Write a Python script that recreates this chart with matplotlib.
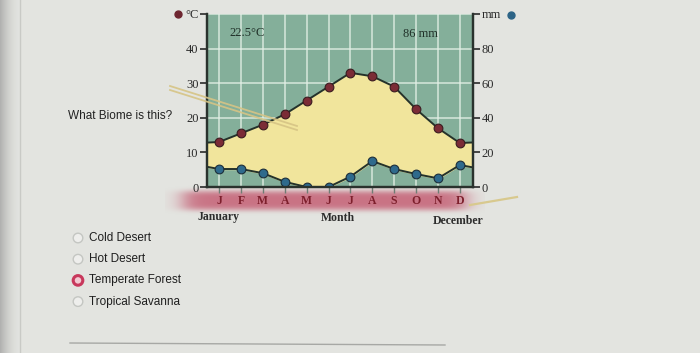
import numpy as np
import matplotlib.pyplot as plt
from matplotlib.patches import Circle

# climate values
months = ['J', 'F', 'M', 'A', 'M', 'J', 'J', 'A', 'S', 'O', 'N', 'D']
temp_c = [13, 15.5, 18, 21, 25, 29, 33, 32, 29, 22.5, 17, 12.7]
precip_mm = [10.4, 10.4, 8, 3, 0, 0, 6, 15, 10.4, 7.5, 5, 12.7]
temp_ticks = [0, 10, 20, 30, 40]
precip_ticks = [0, 20, 40, 60, 80]
annual_temp = '22.5°C'
annual_precip = '86 mm'
question = 'What Biome is this?'
choices = ['Cold Desert', 'Hot Desert', 'Temperate Forest', 'Tropical Savanna']
selected = 'Temperate Forest'

serif = 'Liberation Serif'
sans = 'Liberation Sans'

fig = plt.figure(figsize=(7, 3.53), dpi=100)
fig.patch.set_facecolor('#e3e4e0')

# page decorations in pixel coordinates
bg = fig.add_axes([0, 0, 1, 1], zorder=0)
bg.set_xlim(0, 700)
bg.set_ylim(353, 0)
bg.axis('off')

# darker screen edge on the left
edge = np.linspace(0, 1, 200)[None, :]
bg.imshow(np.dstack([np.full((1, 200, 3), 0.55), (1 - edge) ** 2 * 0.6]),
          extent=(0, 22, 353, 0), aspect='auto', zorder=0)
bg.plot([20, 20], [0, 353], color='#c9cac6', lw=1, zorder=1)

# blurred pink strip behind the month letters
yy, xx = np.mgrid[0:44, 0:320]
ay = np.exp(-((yy - 22) / 10.0) ** 4)
ax_ = 1 / (1 + np.exp(-(xx - 18) / 6)) * 1 / (1 + np.exp((xx - 300) / 6))
band = np.zeros((44, 320, 4))
band[..., 0] = 0.78
band[..., 1] = 0.40
band[..., 2] = 0.48
band[..., 3] = ay * ax_ * 0.9
bg.imshow(band, extent=(165, 485, 222, 178), aspect='auto', zorder=1)

bg.plot([70, 445], [343, 345], color='#a7a8a5', lw=1, zorder=1)

bg.text(120, 116, question, family=sans, fontsize=8.5, color='#222222',
        ha='center', va='center')
for i, name in enumerate(choices):
    y = 238 + i * 21.2
    if name == selected:
        bg.add_patch(Circle((78, y), 4.8, facecolor='#f2c9d2',
                            edgecolor='#c8385c', lw=2.2, zorder=3))
    else:
        bg.add_patch(Circle((78, y), 4.8, facecolor='#eeeeec',
                            edgecolor='#c4c6c2', lw=1, zorder=3))
    bg.text(89, y, name, family=sans, fontsize=8.5, color='#1e1e1e',
            va='center', ha='left')

bg.text(218, 217, 'January', family=serif, fontsize=8.5, fontweight='bold',
        color='#2c2c2c', ha='center', va='center')
bg.text(338, 218, 'Month', family=serif, fontsize=8.5, fontweight='bold',
        color='#2c2c2c', ha='center', va='center')
bg.text(458, 221, 'December', family=serif, fontsize=8.5, fontweight='bold',
        color='#2c2c2c', ha='center', va='center')

bg.plot(178, 14, 'o', ms=5, color='#6e2630', zorder=3)
bg.plot(511, 15, 'o', ms=5, color='#2d6486', zorder=3)

# climate diagram
ax = fig.add_axes([207 / 700, 1 - 187 / 353, 266 / 700, 173 / 353], zorder=2)
ax.set_facecolor('#84af9a')
x = np.arange(1, 13)
lo, hi = 0.45, 12.6
ax.set_xlim(lo, hi)
ax.set_ylim(0, 50)

# wrap the curves round the year to reach both edges
def wrap(v):
    return [v[-1] + lo * (v[0] - v[-1])] + list(v) + [v[-1] + (hi - 12) * (v[0] - v[-1])]

xw = [lo] + list(x) + [hi]
tw = np.array(wrap(temp_c))
pw = np.array(wrap(precip_mm)) / 2.0

ax.grid(True, color='#e4f0e6', lw=1.2, alpha=0.8)
ax.set_axisbelow(True)
ax.fill_between(xw, pw, tw, where=tw >= pw, color='#f1e59c', zorder=2)
ax.plot(xw, tw, color='#24322b', lw=1.4, zorder=3)
ax.plot(x, temp_c, 'o', ms=6.3, mfc='#7b2c36', mec='#3a1c20', mew=0.8, zorder=4)
ax.plot(xw, pw, color='#24322b', lw=1.4, zorder=3)
ax.plot(x, np.array(precip_mm) / 2.0, 'o', ms=6.3, mfc='#2f6a8c', mec='#1c2e3a',
        mew=0.8, zorder=4)

ax.text(2.3, 44.5, annual_temp, family=serif, fontsize=9, color='#203028',
        ha='center', va='center')
ax.text(10.2, 44.3, annual_precip, family=serif, fontsize=9, color='#203028',
        ha='center', va='center')

ax.set_xticks(x)
ax.set_xticklabels(months, family=serif, fontsize=8.5, fontweight='bold',
                   color='#7d1f2c')
ax.tick_params(axis='x', direction='out', length=4.5, width=1, color='#6f7d74',
               pad=1)
ax.set_yticks(temp_ticks + [50])
ax.set_yticklabels([str(t) for t in temp_ticks] + ['°C'], family=serif,
                   fontsize=9, color='#2a2a2a')
ax.tick_params(axis='y', direction='out', length=5, width=1.2,
               color='#2a2a2a', pad=1)

ax2 = ax.twinx()
ax2.set_ylim(0, 100)
ax2.set_yticks(precip_ticks + [100])
ax2.set_yticklabels([str(t) for t in precip_ticks] + ['mm'], family=serif,
                    fontsize=9, color='#2a2a2a')
ax2.tick_params(axis='y', direction='out', length=5, width=1.2,
                color='#2a2a2a', pad=1)

for a in (ax, ax2):
    a.spines['top'].set_visible(False)
    for s in ('left', 'right', 'bottom'):
        a.spines[s].set_color('#2a322d')
        a.spines[s].set_linewidth(1.6)

# reflections of a pen lying across the screen, drawn over everything
top = fig.add_axes([0, 0, 1, 1], zorder=5)
top.set_xlim(0, 700)
top.set_ylim(353, 0)
top.axis('off')
top.plot([170, 297], [86, 126], color='#d6c485', lw=1.3, alpha=0.9)
top.plot([170, 297], [90, 130], color='#d6c485', lw=1.3, alpha=0.9)
top.plot([470, 517], [205, 197], color='#d8c98e', lw=1.6)

fig.savefig('out.png', dpi=100, facecolor=fig.get_facecolor())
